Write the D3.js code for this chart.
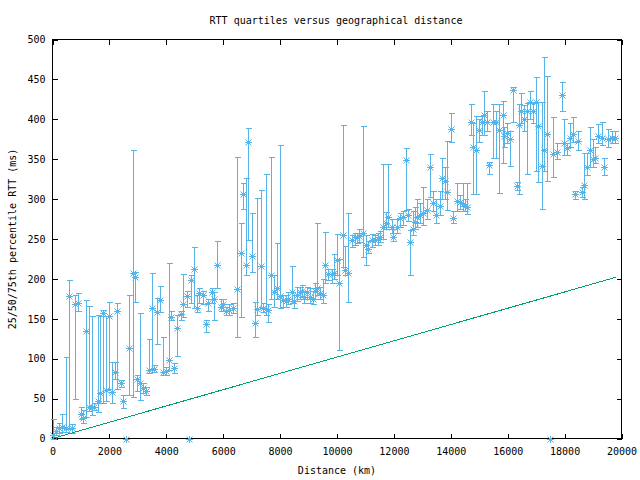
<!DOCTYPE html>
<html><head><meta charset="utf-8">
<script src="https://cdn.jsdelivr.net/npm/d3@7"></script>
<style>body{margin:0;background:#fff}svg{display:block}text{font-family:"DejaVu Sans Mono",monospace;font-size:10px;fill:#000}</style>
</head><body>
<svg id="c" width="640" height="480"></svg>
<script>
const distance = [30,116,222,327,492,584,689,784,879,985,1076,1171,1287,1372,1463,1604,1664,1780,1875,1991,2075,2191,2272,2392,2483,2694,2814,2905,2976,3071,3187,3282,3398,3503,3574,3679,3774,3869,3985,4101,4161,4277,4383,4502,4594,4713,4854,4970,5086,5157,5297,5392,5473,5593,5674,5790,5909,6001,6096,6212,6352,6493,6613,6704,6789,6880,7000,7116,7197,7316,7408,7492,7584,7679,7784,7900,7995,8090,8206,8287,8407,8487,8582,8698,8758,8839,8934,9050,9145,9226,9307,9402,9497,9588,9694,9814,9894,9989,10081,10200,10292,10397,10517,10633,10703,10784,10897,11010,11101,11220,11337,11442,11513,11600,11706,11805,11924,11980,12100,12216,12311,12417,12487,12568,12663,12744,12825,12920,13036,13155,13271,13387,13482,13623,13704,13799,13880,13999,14091,14210,14309,14414,14502,14583,14696,14795,14890,15005,15090,15171,15266,15350,15498,15593,15709,15828,15885,15990,16085,16201,16321,16412,16472,16588,16693,16789,16905,17000,17081,17200,17281,17397,17608,17728,17904,17984,18080,18196,18312,18372,18488,18607,18688,18783,18899,18994,19075,19191,19311,19402,19543,19663,19779,2578,4795,17493];
const median = [4,10,13,14,13,178,13,168,170,31,26,135,40,40,40,47,57,157,61,153,58,83,160,69,47,114,208,202,74,70,63,60,86,163,87,158,173,83,84,98,152,88,138,156,168,178,198,213,164,182,180,143,170,183,175,218,165,169,160,161,163,187,232,306,217,371,229,145,162,216,163,162,161,205,184,189,178,173,172,175,183,172,180,183,185,177,183,177,175,185,188,182,180,217,206,206,208,224,195,255,211,207,249,252,252,254,258,242,238,249,249,250,253,265,270,277,265,253,265,276,278,349,280,246,262,271,278,280,282,286,340,295,280,291,327,323,309,388,276,297,296,294,291,290,396,365,361,386,396,405,397,343,397,397,386,405,379,383,375,437,316,393,410,401,410,422,410,422,392,342,362,382,357,359,431,370,364,377,382,307,373,309,318,340,362,350,352,379,377,340,375,377,377,0,0,0];
const q25 = [0,5,7,8,8,12,7,49,160,24,20,27,35,30,36,33,45,44,47,62,44,75,62,64,38,54,52,171,60,48,57,55,82,86,83,119,158,80,80,86,148,82,103,148,152,165,170,164,158,170,168,133,160,170,148,188,160,160,155,155,157,127,152,287,205,249,209,127,155,165,158,155,146,175,165,175,163,165,165,168,170,163,172,175,178,170,175,170,168,175,180,175,170,195,198,195,200,205,111,215,205,171,240,243,245,246,228,218,232,240,242,243,246,250,262,265,258,247,258,265,268,286,272,205,255,262,265,270,268,275,303,285,270,280,300,300,286,371,270,285,288,285,285,281,380,306,306,372,380,380,385,331,352,352,308,345,365,370,341,397,311,306,395,385,332,400,395,335,322,288,335,323,328,350,411,355,355,365,372,300,362,303,300,330,340,340,345,370,368,330,365,370,370,0,0,0];
const q75 = [24,15,20,31,102,199,18,180,182,40,36,174,166,153,45,155,154,161,154,171,96,96,170,73,54,180,361,209,80,157,70,65,125,208,92,176,191,127,90,220,160,95,155,160,206,185,205,240,180,188,185,148,175,188,183,248,175,175,165,168,170,353,270,320,326,389,283,171,301,311,170,332,168,353,205,245,368,180,180,183,216,180,190,190,192,185,190,188,185,195,270,190,200,259,213,213,231,256,225,393,241,282,255,258,258,262,392,255,248,256,255,257,260,344,284,344,275,262,275,283,285,364,288,261,285,290,300,295,315,300,356,310,300,310,351,340,373,408,285,320,305,320,300,320,419,395,404,400,404,435,410,346,419,410,419,423,390,395,385,440,322,419,433,418,420,435,420,453,422,422,478,454,403,370,447,400,370,395,403,310,385,315,358,358,390,375,365,394,396,351,388,385,385,0,0,0];
const boundDistance = [0, 19800];
const boundRTT = [0, 202];
const xTicks = [0,2000,4000,6000,8000,10000,12000,14000,16000,18000,20000];
const yTicks = [0,50,100,150,200,250,300,350,400,450,500];

const svg = d3.select("#c");
const x = d3.scaleLinear().domain([0,20000]).range([52.5,621.5]);
const y = d3.scaleLinear().domain([0,500]).range([438.5,39.5]);
const blue = "#56B4E9", green = "#009E73";

const gA = svg.append("g").attr("shape-rendering","crispEdges");
const styleAxis = g => { g.select(".domain").remove(); g.selectAll("line").attr("stroke","#000"); g.selectAll("text").attr("fill","#000").style("font-size","10px").style("font-family","'DejaVu Sans Mono',monospace"); };
gA.append("g").attr("transform","translate(0,438.5)").call(d3.axisBottom(x).tickValues(xTicks).tickFormat(d3.format("d")).tickSizeInner(-5).tickSizeOuter(0).tickPadding(9)).call(styleAxis);
gA.append("g").attr("transform","translate(0,39.5)").call(d3.axisTop(x).tickValues(xTicks).tickFormat("").tickSizeInner(-5).tickSizeOuter(0)).call(styleAxis);
gA.append("g").attr("transform","translate(52.5,0)").call(d3.axisLeft(y).tickValues(yTicks).tickFormat(d3.format("d")).tickSizeInner(-5).tickSizeOuter(0).tickPadding(7)).call(styleAxis);
gA.append("g").attr("transform","translate(621.5,0)").call(d3.axisRight(y).tickValues(yTicks).tickFormat("").tickSizeInner(-5).tickSizeOuter(0)).call(styleAxis);
gA.append("rect").attr("x",52.5).attr("y",39.5).attr("width",569).attr("height",399).attr("fill","none").attr("stroke","#000");

const data = distance.map((d,i)=>({d, m:median[i], lo:q25[i], hi:q75[i]}));
const gE = svg.append("g").attr("stroke",blue).attr("stroke-width",1).attr("fill","none").attr("shape-rendering","crispEdges");
data.forEach(p=>{
  const px = Math.round(x(p.d))+0.5;
  const a = Math.round(y(p.lo))+0.5, b = Math.round(y(p.hi))+0.5;
  gE.append("path").attr("d",`M${px},${a}V${b}M${px-3},${a}H${px+3}M${px-3},${b}H${px+3}`);
});
const gM = svg.append("g").attr("stroke",blue).attr("stroke-width",1).attr("fill","none");
data.forEach(p=>{
  const px = Math.round(x(p.d))+0.5, py = Math.round(y(p.m))+0.5;
  gM.append("path").attr("transform",`translate(${px},${py})`).attr("d","M-3.5,0H3.5M0,-3.5V3.5M-3,-3L3,3M-3,3L3,-3");
});
svg.append("path").datum(boundDistance.map((d,i)=>[d,boundRTT[i]]))
  .attr("d",d3.line().x(d=>x(d[0])).y(d=>y(d[1]))).attr("stroke",green).attr("stroke-width",1).attr("fill","none").attr("shape-rendering","crispEdges");

svg.append("text").attr("x",336).attr("y",24).attr("text-anchor","middle").text("RTT quartiles versus geographical distance");
svg.append("text").attr("x",337).attr("y",474).attr("text-anchor","middle").text("Distance (km)");
svg.append("text").attr("transform","translate(16,239) rotate(-90)").attr("text-anchor","middle").text("25/50/75th percentile RTT (ms)");
</script>
</body></html>
